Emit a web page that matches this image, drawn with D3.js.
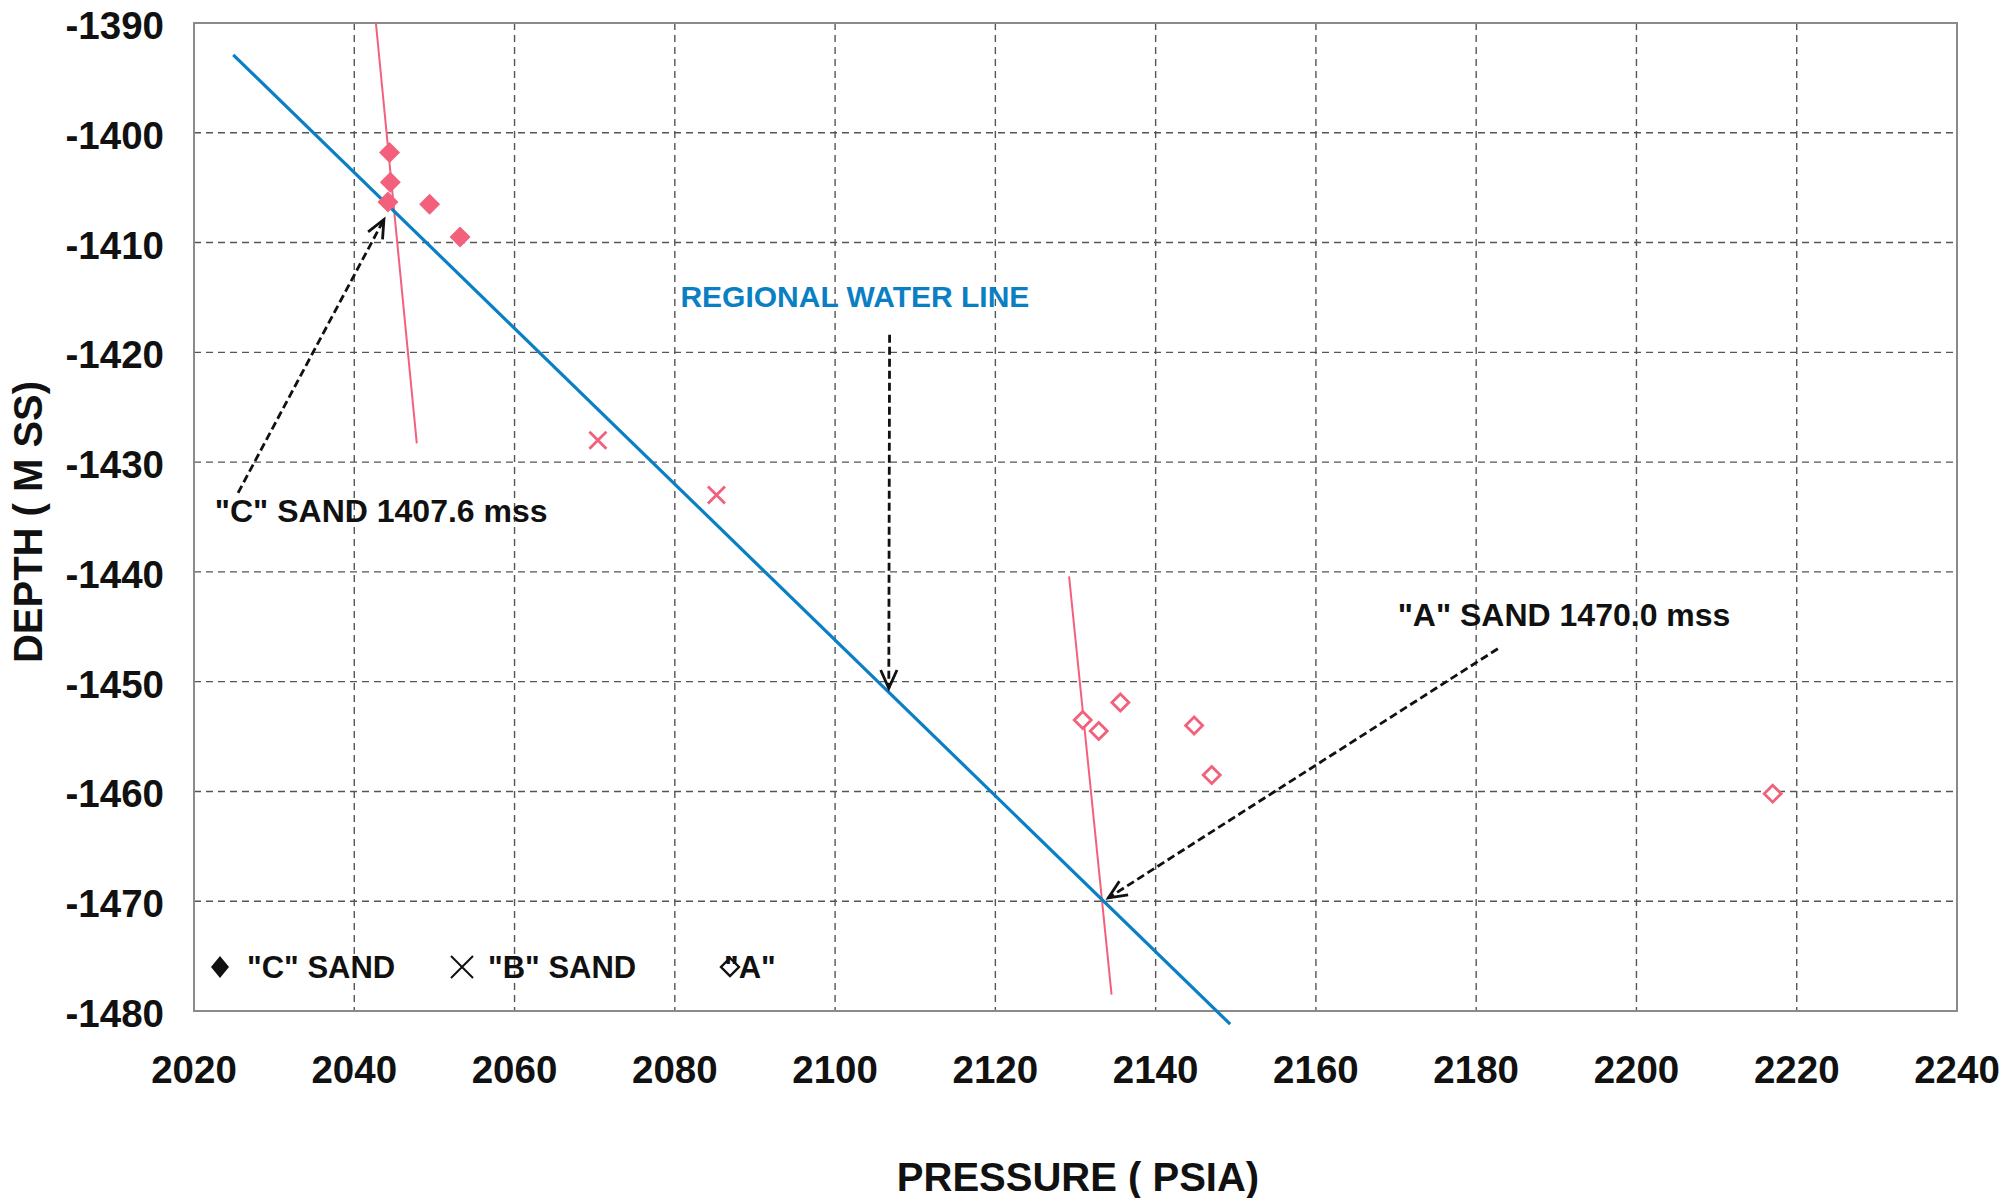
<!DOCTYPE html>
<html lang="en">
<head>
    <meta charset="UTF-8">
    <title>Pressure vs Depth</title>
    <script src="https://d3js.org/d3.v7.min.js"></script>
    <style>
        body {
            margin: 0;
            background: #fff;
            font-family: "Liberation Sans", Arial, sans-serif;
        }
        svg { display: block; }
        .grid line {
            stroke: #555;
            stroke-width: 1.4px;
            stroke-dasharray: 7,5;
        }
        .tick-label {
            font-size: 38.5px;
            font-weight: bold;
            fill: #111;
        }
        .axis-title {
            font-size: 40px;
            font-weight: bold;
            fill: #111;
        }
        .note {
            font-size: 32px;
            font-weight: bold;
            fill: #111;
        }
        .legend-text {
            font-size: 31px;
            font-weight: bold;
            fill: #111;
        }
    </style>
</head>
<body>
<svg id="chart"></svg>
<script>
    // axis ticks
    const pressureTicks = [2020, 2040, 2060, 2080, 2100, 2120, 2140, 2160, 2180, 2200, 2220, 2240];
    const depthTicks = [-1390, -1400, -1410, -1420, -1430, -1440, -1450, -1460, -1470, -1480];

    // "C" sand measurements (filled diamonds)
    const cSandPressure = [2044.4, 2044.5, 2044.2, 2049.4, 2053.2];
    const cSandDepth = [-1401.8, -1404.5, -1406.3, -1406.5, -1409.5];

    // "B" sand measurements (crosses)
    const bSandPressure = [2070.4, 2085.2];
    const bSandDepth = [-1428.0, -1433.0];

    // "A" sand measurements (open diamonds)
    const aSandPressure = [2130.9, 2132.9, 2135.6, 2144.8, 2147.0, 2217.0];
    const aSandDepth = [-1453.5, -1454.5, -1451.9, -1454.0, -1458.5, -1460.2];

    // fitted lines, [pressure, depth] end points
    const waterLine = [[2024.9, -1392.9], [2149.3, -1481.2]];
    const cGradient = [[2042.7, -1390.0], [2047.8, -1428.3]];
    const aGradient = [[2129.2, -1440.4], [2134.5, -1478.5]];

    // annotations (text and arrows), in data units
    const notes = [
        {text: "REGIONAL WATER LINE", p: 2080.7, d: -1415.9, color: "#0b7fc4", size: 30},
        {text: "\"C\" SAND 1407.6 mss", p: 2022.6, d: -1435.5, color: "#111", size: 32},
        {text: "\"A\" SAND 1470.0 mss", p: 2170.2, d: -1444.9, color: "#111", size: 32}
    ];
    const arrows = [
        [[2106.8, -1418.4], [2106.7, -1450.6]],
        [[2025.5, -1432.8], [2043.7, -1407.9]],
        [[2182.7, -1447.0], [2134.1, -1469.7]]
    ];

    const W = 2003, H = 1198;
    const margin = {top: 23, right: 46, bottom: 187, left: 194};
    const pink = "#f2607c";
    const blue = "#0b7fc4";

    const svg = d3.select("#chart").attr("width", W).attr("height", H);

    const x = d3.scaleLinear().domain([2020, 2240]).range([margin.left, W - margin.right]);
    const y = d3.scaleLinear().domain([-1390, -1480]).range([margin.top, H - margin.bottom]);

    // grid
    const grid = svg.append("g").attr("class", "grid");
    grid.selectAll(".vg")
        .data(pressureTicks.slice(1, -1))
        .enter().append("line")
        .attr("x1", d => x(d)).attr("x2", d => x(d))
        .attr("y1", y(-1390)).attr("y2", y(-1480));
    grid.selectAll(".hg")
        .data(depthTicks.slice(1, -1))
        .enter().append("line")
        .attr("x1", x(2020)).attr("x2", x(2240))
        .attr("y1", d => y(d)).attr("y2", d => y(d));

    // plot frame
    svg.append("rect")
        .attr("x", x(2020)).attr("y", y(-1390))
        .attr("width", x(2240) - x(2020))
        .attr("height", y(-1480) - y(-1390))
        .attr("fill", "none")
        .attr("stroke", "#8a8a8a")
        .attr("stroke-width", 2);

    // tick labels
    svg.append("g").selectAll("text")
        .data(pressureTicks)
        .enter().append("text")
        .attr("class", "tick-label")
        .attr("x", d => x(d))
        .attr("y", 1083)
        .attr("text-anchor", "middle")
        .text(d => d);

    svg.append("g").selectAll("text")
        .data(depthTicks)
        .enter().append("text")
        .attr("class", "tick-label")
        .attr("x", 164)
        .attr("y", d => y(d) + 16)
        .attr("text-anchor", "end")
        .text(d => "-" + Math.abs(d));

    // axis titles
    svg.append("text")
        .attr("class", "axis-title")
        .attr("x", 1078).attr("y", 1191)
        .attr("text-anchor", "middle")
        .text("PRESSURE ( PSIA)");

    svg.append("text")
        .attr("class", "axis-title")
        .attr("transform", "translate(42,522) rotate(-90)")
        .attr("text-anchor", "middle")
        .text("DEPTH ( M SS)");

    // lines
    const line = d3.line().x(d => x(d[0])).y(d => y(d[1]));
    svg.append("path").datum(cGradient)
        .attr("d", line).attr("stroke", pink).attr("stroke-width", 2).attr("fill", "none");
    svg.append("path").datum(aGradient)
        .attr("d", line).attr("stroke", pink).attr("stroke-width", 2).attr("fill", "none");
    svg.append("path").datum(waterLine)
        .attr("d", line).attr("stroke", blue).attr("stroke-width", 3.2).attr("fill", "none");

    // markers
    function diamond(r) {
        return `M0,${-r}L${r},0L0,${r}L${-r},0Z`;
    }
    function cross(r) {
        return `M${-r},${-r}L${r},${r}M${-r},${r}L${r},${-r}`;
    }

    svg.append("g").selectAll("path")
        .data(d3.zip(cSandPressure, cSandDepth))
        .enter().append("path")
        .attr("transform", d => `translate(${x(d[0])},${y(d[1])})`)
        .attr("d", diamond(10.5))
        .attr("fill", pink);

    svg.append("g").selectAll("path")
        .data(d3.zip(bSandPressure, bSandDepth))
        .enter().append("path")
        .attr("transform", d => `translate(${x(d[0])},${y(d[1])})`)
        .attr("d", cross(8.5))
        .attr("stroke", pink).attr("stroke-width", 2.8).attr("fill", "none");

    svg.append("g").selectAll("path")
        .data(d3.zip(aSandPressure, aSandDepth))
        .enter().append("path")
        .attr("transform", d => `translate(${x(d[0])},${y(d[1])})`)
        .attr("d", diamond(8.5))
        .attr("stroke", pink).attr("stroke-width", 2.8).attr("fill", "#fff");

    // annotations
    svg.append("g").selectAll("text")
        .data(notes)
        .enter().append("text")
        .attr("class", "note")
        .attr("x", d => x(d.p)).attr("y", d => y(d.d))
        .style("fill", d => d.color)
        .style("font-size", d => d.size + "px")
        .text(d => d.text);

    const arrowG = svg.append("g");
    arrows.forEach(a => {
        const x0 = x(a[0][0]), y0 = y(a[0][1]);
        const x1 = x(a[1][0]), y1 = y(a[1][1]);
        arrowG.append("line")
            .attr("x1", x0).attr("y1", y0).attr("x2", x1).attr("y2", y1)
            .attr("stroke", "#111").attr("stroke-width", 2.8)
            .attr("stroke-dasharray", "8,4");
        const ang = Math.atan2(y1 - y0, x1 - x0);
        const len = 20, spread = 0.42;
        const head = [ang + Math.PI - spread, ang + Math.PI + spread].map(t =>
            [x1 + len * Math.cos(t), y1 + len * Math.sin(t)]);
        arrowG.append("path")
            .attr("d", `M${head[0][0]},${head[0][1]}L${x1},${y1}L${head[1][0]},${head[1][1]}`)
            .attr("stroke", "#111").attr("stroke-width", 2.8).attr("fill", "none");
    });

    // legend inside the plot, bottom left
    const legendY = 967;
    const legend = svg.append("g");
    legend.append("path")
        .attr("transform", `translate(220,${legendY})`)
        .attr("d", "M0,-11L9,0L0,11L-9,0Z")
        .attr("fill", "#111");
    legend.append("text").attr("class", "legend-text")
        .attr("x", 247).attr("y", legendY + 11).text("\"C\" SAND");

    legend.append("path")
        .attr("transform", `translate(462,${legendY})`)
        .attr("d", "M-11,-11L11,11M-11,11L11,-11")
        .attr("stroke", "#111").attr("stroke-width", 2).attr("fill", "none");
    legend.append("text").attr("class", "legend-text")
        .attr("x", 488).attr("y", legendY + 11).text("\"B\" SAND");

    legend.append("text").attr("class", "legend-text")
        .attr("x", 724).attr("y", legendY + 11).text("\"A\"");
    legend.append("path")
        .attr("transform", `translate(730,${legendY})`)
        .attr("d", "M0,-9L9,0L0,9L-9,0Z")
        .attr("stroke", "#111").attr("stroke-width", 2.4).attr("fill", "none");
</script>
</body>
</html>
